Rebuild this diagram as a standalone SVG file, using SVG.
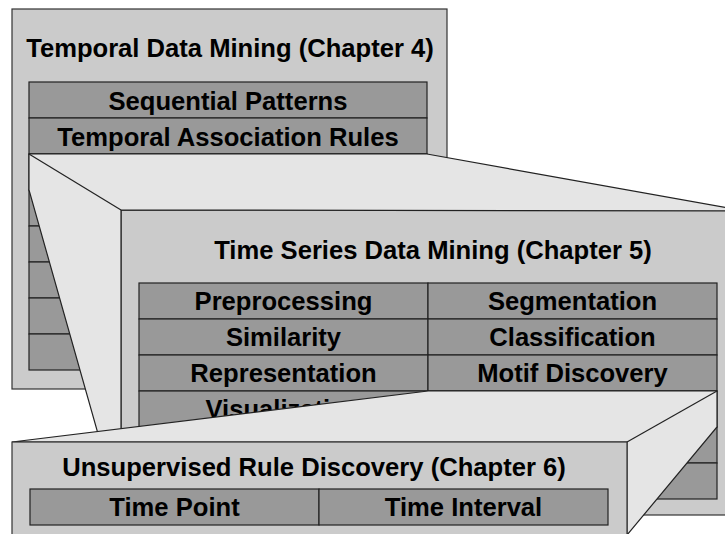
<svg xmlns="http://www.w3.org/2000/svg" width="725" height="534" viewBox="0 0 725 534">
<style>
.box{fill:#cbcbcb;stroke:#333;stroke-width:1.2}
.cell{fill:#999999;stroke:#222;stroke-width:1.2}
.face{fill:#e5e5e5;stroke:#222;stroke-width:1.2;stroke-linejoin:miter}
.edge{stroke:#222;stroke-width:1.2;fill:none}
text{font-family:"Liberation Sans",Arial,Helvetica,sans-serif;font-weight:bold;font-size:25.6px;fill:#000;text-anchor:middle}
</style>
<rect width="725" height="534" fill="#fff"/>
<g id="temporal-data-mining">
<rect class="box" x="12" y="9" width="435" height="380"/>
<text x="230" y="56.5">Temporal Data Mining (Chapter 4)</text>
<rect class="cell" x="29" y="82" width="398" height="36"/>
<rect class="cell" x="29" y="118" width="398" height="36"/>
<rect class="cell" x="29" y="154" width="398" height="36"/>
<rect class="cell" x="29" y="190" width="398" height="36"/>
<rect class="cell" x="29" y="226" width="398" height="36"/>
<rect class="cell" x="29" y="262" width="398" height="36"/>
<rect class="cell" x="29" y="298" width="398" height="36"/>
<rect class="cell" x="29" y="334" width="398" height="36"/>
<text x="228" y="109.5">Sequential Patterns</text>
<text x="228" y="145.5">Temporal Association Rules</text>
</g>
<g id="time-series-data-mining">
<rect class="box" x="121" y="210" width="630" height="305"/>
<text x="433" y="259">Time Series Data Mining (Chapter 5)</text>
<rect class="cell" x="139" y="283" width="289" height="36"/>
<rect class="cell" x="428" y="283" width="289" height="36"/>
<rect class="cell" x="139" y="319" width="289" height="36"/>
<rect class="cell" x="428" y="319" width="289" height="36"/>
<rect class="cell" x="139" y="355" width="289" height="36"/>
<rect class="cell" x="428" y="355" width="289" height="36"/>
<rect class="cell" x="139" y="391" width="289" height="36"/>
<rect class="cell" x="428" y="391" width="289" height="36"/>
<rect class="cell" x="139" y="427" width="289" height="36"/>
<rect class="cell" x="428" y="427" width="289" height="36"/>
<rect class="cell" x="139" y="463" width="289" height="36"/>
<rect class="cell" x="428" y="463" width="289" height="36"/>
<text x="283.5" y="310">Preprocessing</text>
<text x="572.5" y="310">Segmentation</text>
<text x="283.5" y="346">Similarity</text>
<text x="572.5" y="346">Classification</text>
<text x="283.5" y="382">Representation</text>
<text x="572.5" y="382">Motif Discovery</text>
<text x="283.5" y="418">Visualization</text>
</g>
<g id="connectors">
<polygon class="face" points="29,154 427,154 745,211 121,210 121,515 29,190"/>
<line class="edge" x1="29" y1="154" x2="121" y2="210"/>
<polygon class="face" points="428,391 717,391 717,427 627,535 627,442 12,442"/>
<line class="edge" x1="717" y1="391" x2="627" y2="442"/>
</g>
<g id="unsupervised-rule-discovery">
<rect class="box" x="12" y="442" width="615" height="110"/>
<text x="314" y="476">Unsupervised Rule Discovery (Chapter 6)</text>
<rect class="cell" x="30" y="489" width="289" height="36"/>
<rect class="cell" x="319" y="489" width="289" height="36"/>
<text x="174.5" y="516">Time Point</text>
<text x="463.5" y="516">Time Interval</text>
</g>
</svg>
